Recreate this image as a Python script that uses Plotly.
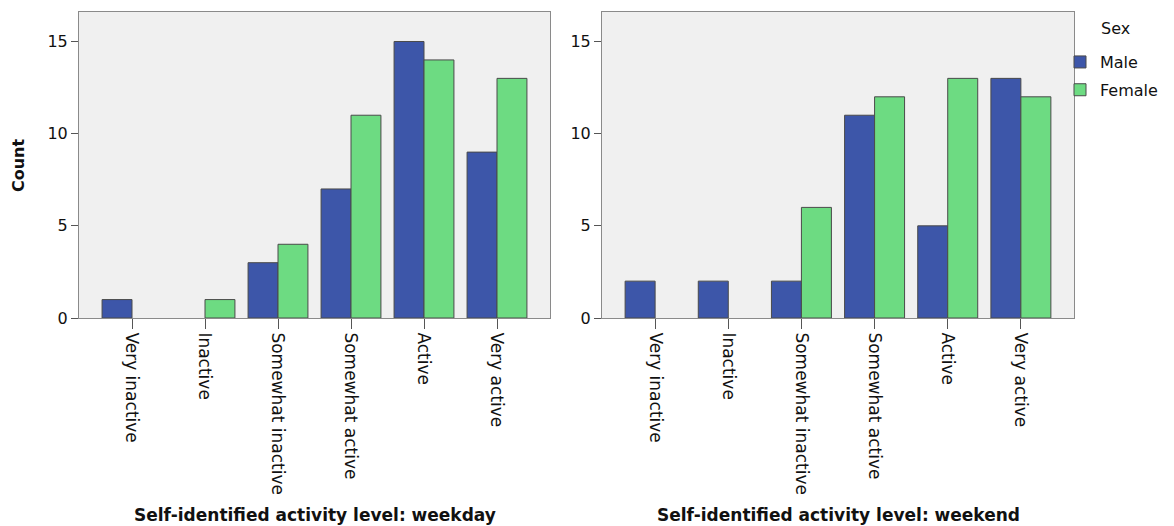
import plotly.graph_objects as go

categories = ["Very inactive", "Inactive", "Somewhat inactive", "Somewhat active", "Active", "Very active"]
weekday_male = [1, 0, 3, 7, 15, 9]
weekday_female = [0, 1, 4, 11, 14, 13]
weekend_male = [2, 2, 2, 11, 5, 13]
weekend_female = [0, 0, 6, 12, 13, 12]
y_ticks = [0, 5, 10, 15]

MALE = "#3d56a9"
FEMALE = "#6ddb82"
FONT = "DejaVu Sans"
EDGE = "#4a4a4a"


def nz(vals):
    # empty categories draw no bar at all (no outline on the baseline)
    return [v if v != 0 else None for v in vals]


fig = go.Figure()
fig.add_trace(go.Bar(x=categories, y=nz(weekday_male), name="Male", marker=dict(color=MALE, line=dict(color=EDGE, width=1)),
                     xaxis="x", yaxis="y", legendgroup="m"))
fig.add_trace(go.Bar(x=categories, y=nz(weekday_female), name="Female", marker=dict(color=FEMALE, line=dict(color=EDGE, width=1)),
                     xaxis="x", yaxis="y", legendgroup="f"))
fig.add_trace(go.Bar(x=categories, y=nz(weekend_male), name="Male", marker=dict(color=MALE, line=dict(color=EDGE, width=1)),
                     xaxis="x2", yaxis="y2", legendgroup="m", showlegend=False))
fig.add_trace(go.Bar(x=categories, y=nz(weekend_female), name="Female", marker=dict(color=FEMALE, line=dict(color=EDGE, width=1)),
                     xaxis="x2", yaxis="y2", legendgroup="f", showlegend=False))

# page body has an 8px margin, so figure coordinates = reference pixels - 8
W, H = 1166, 518
xaxis_common = dict(type="category", range=[-0.726, 5.726], showline=True, mirror=True, linecolor="#8a8a8a", linewidth=1,
                    ticks="outside", ticklen=10, tickcolor="#555", tickangle=90, showgrid=False, zeroline=False,
                    tickfont=dict(family=FONT, size=17, color="#111"))
yaxis_common = dict(range=[0, 16.6], tickvals=y_ticks, showline=True, mirror=True, linecolor="#8a8a8a", linewidth=1,
                    ticks="outside", ticklen=7, tickcolor="#555", showgrid=False, zeroline=False,
                    tickfont=dict(family=FONT, size=16, color="#111"))

title_y = (310 - 507) / 306

fig.update_layout(
    width=W, height=H,
    margin=dict(l=0, r=0, t=4, b=208),
    paper_bgcolor="white", plot_bgcolor="#f0f0f0",
    barmode="group", bargap=0.18, bargroupgap=0,
    font=dict(family=FONT, color="#111"),
    xaxis=dict(domain=[71 / W, 542 / W], anchor="y", **xaxis_common),
    yaxis=dict(domain=[0, 1], anchor="x", **yaxis_common),
    xaxis2=dict(domain=[594 / W, 1066 / W], anchor="y2", **xaxis_common),
    yaxis2=dict(domain=[0, 1], anchor="x2", **yaxis_common),
    legend=dict(x=1052 / W, y=0.892, xanchor="left", yanchor="top",
                font=dict(size=16, family=FONT), bgcolor="rgba(0,0,0,0)", tracegroupgap=4),
    annotations=[
        dict(text="Sex", xref="paper", yref="paper", x=1107 / W, y=(310 - 20) / 306, showarrow=False,
             font=dict(size=16, family=FONT), xanchor="center", yanchor="middle"),
        dict(text="<b>Count</b>", xref="paper", yref="paper", x=10 / W, y=0.5, showarrow=False, textangle=-90,
             font=dict(size=16, family=FONT), xanchor="center", yanchor="middle"),
        dict(text="<b>Self-identified activity level: weekday</b>", xref="paper", yref="paper", x=307 / W, y=title_y,
             showarrow=False, font=dict(size=17, family=FONT), xanchor="center", yanchor="middle"),
        dict(text="<b>Self-identified activity level: weekend</b>", xref="paper", yref="paper", x=830 / W, y=title_y,
             showarrow=False, font=dict(size=17, family=FONT), xanchor="center", yanchor="middle"),
    ],
)

fig.write_html("out.html")
